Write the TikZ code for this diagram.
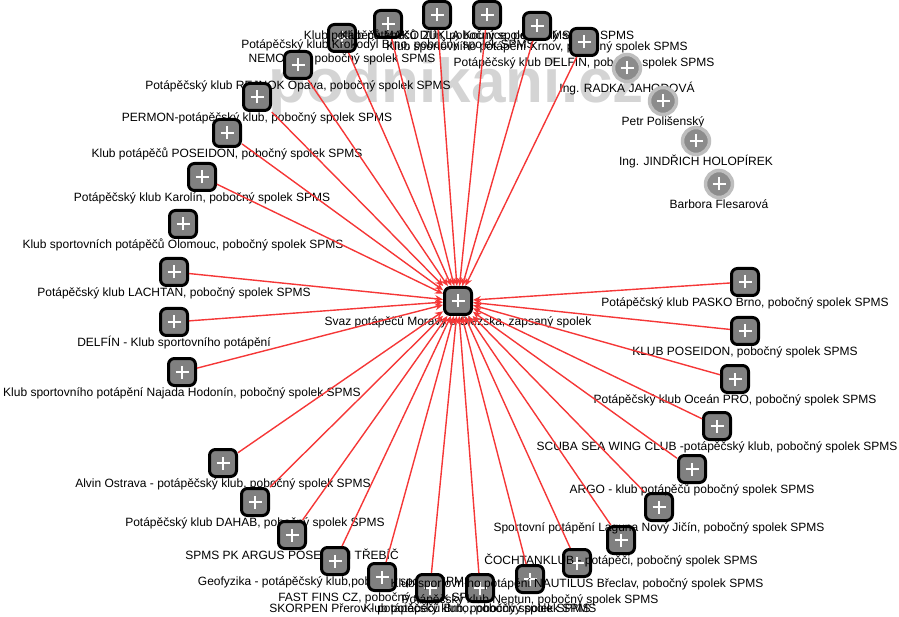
\documentclass[tikz,border=0pt]{standalone}
\usepackage{fontspec}
\setmainfont{Liberation Sans}
\usetikzlibrary{arrows.meta}
\definecolor{linkred}{RGB}{245,55,55}
\definecolor{boxgray}{RGB}{128,128,128}
\definecolor{ringgray}{RGB}{190,190,190}
\definecolor{persongray}{RGB}{140,140,140}
\definecolor{markgray}{RGB}{212,212,212}
\newcommand{\lblfont}{\fontsize{12}{13}\selectfont}

\begin{document}
\begin{tikzpicture}[
	x=1pt, y=-1pt,
	plus/.style={path picture={\draw[white, line width=2.6pt] ([xshift=-6.5pt]path picture bounding box.center) -- ([xshift=6.5pt]path picture bounding box.center) ([yshift=-6.5pt]path picture bounding box.center) -- ([yshift=6.5pt]path picture bounding box.center);}},
	org/.style={plus, rectangle, rounded corners=6pt, draw=black, line width=3pt, fill=boxgray, minimum size=27pt, inner sep=0pt},
	person/.style={plus, circle, draw=ringgray, line width=3.5pt, fill=persongray, minimum size=27pt, inner sep=0pt},
	every label/.style={font=\lblfont, text=black, inner sep=1pt, text height=8.5pt, text depth=2.5pt},
	link/.style={draw=linkred, line width=1.4pt, -{Stealth[length=8pt, width=7pt]}}
]
\useasboundingbox (0,0) rectangle (899,617);

% Watermark
\node[font=\fontsize{62}{62}\selectfont\bfseries, text=markgray, anchor=base west, inner sep=0pt] (mark) at (268,103) {podnikani.cz};

% Central association
\node[org, label=below:{Svaz potápěčů Moravy a Slezska, zapsaný spolek}] (svaz) at (458,301) {};

% Top row
\node[org, label=below:{NEMO Zlín, pobočný spolek SPMS}] (nemo) at (342,38) {};
\node[org, label=below:{Potápěčský klub Krokodýl Brno, pobočný spolek SPMS}] (krokodyl) at (388,24) {};
\node[org, label=below:{Klub potápěčů MAKO Zlín, pobočný spolek SPMS}] (mako) at (437,15) {};
\node[org, label=below:{Klub potápěčů DUKLA Kounice, pobočný spolek SPMS}] (dukla) at (487,15) {};
\node[org, label=below:{Klub sportovního potápění Krnov, pobočný spolek SPMS}] (krnov) at (537,26) {};
\node[org, label=below:{Potápěčský klub DELFÍN, pobočný spolek SPMS}] (delfin) at (584,42) {};

% Left side
\node[org, label=below:{Potápěčský klub REJNOK Opava, pobočný spolek SPMS}] (rejnok) at (298,65) {};
\node[org, label=below:{PERMON-potápěčský klub, pobočný spolek SPMS}] (permon) at (257,97) {};
\node[org, label=below:{Klub potápěčů POSEIDON, pobočný spolek SPMS}] (poseidon) at (227,133) {};
\node[org, label=below:{Potápěčský klub Karolín, pobočný spolek SPMS}] (karolin) at (202,177) {};
\node[org, label=below:{Klub sportovních potápěčů Olomouc, pobočný spolek SPMS}] (olomouc) at (183,224) {};
\node[org, label=below:{Potápěčský klub LACHTAN, pobočný spolek SPMS}] (lachtan) at (174,272) {};
\node[org, label=below:{DELFÍN - Klub sportovního potápění}] (delfinksp) at (174,322) {};
\node[org, label=below:{Klub sportovního potápění Najada Hodonín, pobočný spolek SPMS}] (najada) at (182,372) {};

% Lower left
\node[org, label=below:{Alvin Ostrava - potápěčský klub, pobočný spolek SPMS}] (alvin) at (223,463) {};
\node[org, label=below:{Potápěčský klub DAHAB, pobočný spolek SPMS}] (dahab) at (255,502) {};
\node[org, label=below:{SPMS PK ARGUS POSEIDON TŘEBÍČ}] (argus) at (292,535) {};
\node[org, label=below:{Geofyzika - potápěčský klub,pobočný spolek SPMS}] (geofyzika) at (335,561) {};

% Bottom
\node[org, label=below:{FAST FINS CZ, pobočný spolek SPMS}] (fastfins) at (382,577) {};
\node[org, label=below:{SKORPEN Přerov - potápěčský klub, pobočný spolek SPMS}] (skorpen) at (430,588) {};
\node[org, label=below:{Klub potápěčů Brno, pobočný spolek SPMS}] (brno) at (480,588) {};
\node[org, label=below:{Potápěčský klub Neptun, pobočný spolek SPMS}] (neptun) at (530,579) {};

% Right side
\node[org, label=below:{Klub sportovního potápění NAUTILUS Břeclav, pobočný spolek SPMS}] (nautilus) at (577,563) {};
\node[org, label=below:{ČOCHTANKLUB - potápěči, pobočný spolek SPMS}] (cochtan) at (621,540) {};
\node[org, label=below:{Sportovní potápění Laguna Nový Jičín, pobočný spolek SPMS}] (laguna) at (659,507) {};
\node[org, label=below:{ARGO - klub potápěčů pobočný spolek SPMS}] (argo) at (692,469) {};
\node[org, label=below:{SCUBA SEA WING CLUB -potápěčský klub, pobočný spolek SPMS}] (scuba) at (717,426) {};
\node[org, label=below:{Potápěčský klub Oceán PRO, pobočný spolek SPMS}] (ocean) at (735,379) {};
\node[org, label=below:{KLUB POSEIDON, pobočný spolek SPMS}] (klubposeidon) at (745,331) {};
\node[org, label=below:{Potápěčský klub PASKO Brno, pobočný spolek SPMS}] (pasko) at (745,282) {};

% Persons (no links)
\node[person, label=below:{Ing. RADKA JAHODOVÁ}] (jahodova) at (627,68) {};
\node[person, label=below:{Petr Polišenský}] (polisensky) at (663,101) {};
\node[person, label=below:{Ing. JINDŘICH HOLOPÍREK}] (holopirek) at (696,141) {};
\node[person, label=below:{Barbora Flesarová}] (flesarova) at (719,184) {};

% Links into the association
\draw[link] (nemo) -- (svaz);
\draw[link] (krokodyl) -- (svaz);
\draw[link] (mako) -- (svaz);
\draw[link] (dukla) -- (svaz);
\draw[link] (krnov) -- (svaz);
\draw[link] (delfin) -- (svaz);

\draw[link] (rejnok) -- (svaz);
\draw[link] (permon) -- (svaz);
\draw[link] (poseidon) -- (svaz);
\draw[link] (karolin) -- (svaz);
\draw[link] (lachtan) -- (svaz);
\draw[link] (delfinksp) -- (svaz);
\draw[link] (najada) -- (svaz);

\draw[link] (alvin) -- (svaz);
\draw[link] (dahab) -- (svaz);
\draw[link] (argus) -- (svaz);
\draw[link] (geofyzika) -- (svaz);

\draw[link] (fastfins) -- (svaz);
\draw[link] (skorpen) -- (svaz);
\draw[link] (brno) -- (svaz);
\draw[link] (neptun) -- (svaz);

\draw[link] (nautilus) -- (svaz);
\draw[link] (cochtan) -- (svaz);
\draw[link] (laguna) -- (svaz);
\draw[link] (argo) -- (svaz);
\draw[link] (scuba) -- (svaz);
\draw[link] (ocean) -- (svaz);
\draw[link] (klubposeidon) -- (svaz);
\draw[link] (pasko) -- (svaz);
\end{tikzpicture}
\end{document}
